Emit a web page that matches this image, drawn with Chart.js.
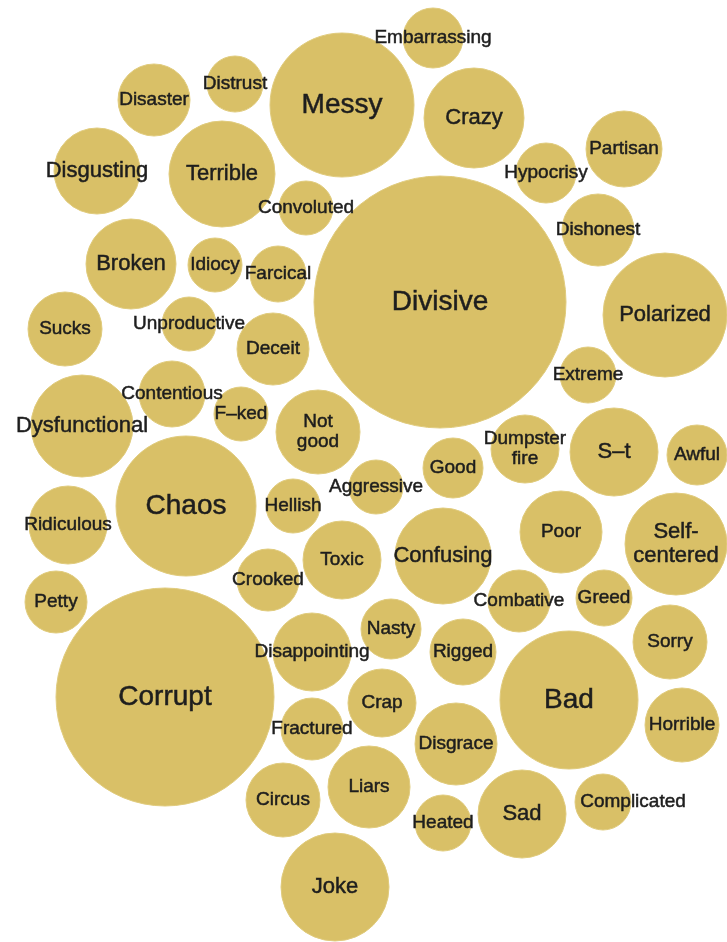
<!DOCTYPE html>
<html>
<head>
<meta charset="utf-8">
<script src="https://cdn.jsdelivr.net/npm/chart.js@4"></script>
<style>
  html, body { margin: 0; padding: 0; background: #fff; }
  #wrap { width: 727px; height: 942px; }
</style>
</head>
<body>
<div id="wrap"><canvas id="bubbles" width="727" height="942"></canvas></div>
<script>
// words as they appear in the picture (line breaks where the label wraps)
const words = [
  "Embarrassing", "Disaster", "Distrust", "Messy", "Crazy", "Disgusting",
  "Terrible", "Partisan", "Hypocrisy", "Convoluted", "Dishonest", "Broken",
  "Idiocy", "Farcical", "Divisive", "Polarized", "Sucks", "Unproductive",
  "Deceit", "Extreme", "Contentious", "F\u2013ked", "Dysfunctional", "Not\ngood",
  "Dumpster\nfire", "S\u2013t", "Awful", "Good", "Aggressive", "Chaos",
  "Hellish", "Ridiculous", "Poor", "Self-\ncentered", "Confusing", "Toxic",
  "Crooked", "Petty", "Combative", "Greed", "Nasty", "Sorry",
  "Disappointing", "Rigged", "Corrupt", "Bad", "Crap", "Fractured",
  "Horrible", "Disgrace", "Liars", "Circus", "Heated", "Sad",
  "Complicated", "Joke"
];
const xs = [
  433, 154, 235, 342, 474, 97,
  222, 624, 546, 306, 598, 131,
  215, 278, 440, 665, 65, 189,
  273, 588, 172, 241, 82, 318,
  525, 614, 697, 453, 376, 186,
  293, 68, 561, 676, 443, 342,
  268, 56, 519, 604, 391, 670,
  312, 463, 165, 569, 382, 312,
  682, 456, 369, 283, 443, 522,
  603, 335
];
const ys = [
  38, 100, 84, 105, 118, 171,
  174, 149, 173, 208, 230, 264,
  265, 274, 302, 315, 329, 324,
  349, 375, 394, 414, 426, 432,
  449, 452, 455, 468, 487, 506,
  506, 525, 532, 544, 556, 560,
  580, 602, 601, 598, 629, 642,
  652, 652, 697, 700, 703, 729,
  725, 744, 787, 800, 823, 814,
  802, 887
];
const radii = [
  30, 36, 28, 72, 50, 43,
  53, 38, 30, 27, 36, 45,
  27, 28, 126, 62, 37, 27,
  36, 28, 33, 27, 51, 42,
  34, 44, 30, 30, 27, 70,
  27, 39, 41, 51, 48, 39,
  31, 31, 31, 28, 30, 37,
  39, 33, 109, 69, 34, 31,
  37, 41, 41, 37, 28, 44,
  28, 54
];

// labels that sit off their bubble's centre
const labelShift = { "Complicated": 30 };

const wordLabels = {
  id: "wordLabels",
  afterDatasetsDraw(chart) {
    const ctx = chart.ctx;
    const meta = chart.getDatasetMeta(0);
    ctx.save();
    ctx.fillStyle = "#1e1e1e";
    ctx.strokeStyle = "#1e1e1e";
    ctx.lineWidth = 0.5;
    ctx.textAlign = "center";
    ctx.textBaseline = "middle";
    meta.data.forEach((pt, i) => {
      const r = radii[i];
      const size = r >= 68 ? 28 : r >= 43 ? 22 : 19;
      ctx.font = size + "px 'Liberation Sans', Arial, sans-serif";
      const lines = words[i].split("\n");
      const lh = size * 1.08;
      const dx = labelShift[words[i]] || 0;
      lines.forEach((line, j) => {
        const ty = pt.y + (j - (lines.length - 1) / 2) * lh;
        ctx.fillText(line, pt.x + dx, ty);
        ctx.strokeText(line, pt.x + dx, ty);
      });
    });
    ctx.restore();
  },
};

const ctx = document.getElementById("bubbles").getContext("2d");
new Chart(ctx, {
  type: "bubble",
  data: {
    datasets: [
      {
        label: "Words",
        data: words.map((w, i) => ({ x: xs[i], y: ys[i], r: radii[i] })),
        backgroundColor: "rgb(217, 192, 103)",
        borderColor: "rgb(224, 203, 125)",
        borderWidth: 1,
        clip: false,
      },
    ],
  },
  options: {
    responsive: false,
    animation: false,
    events: [],
    layout: { padding: 0, autoPadding: false },
    plugins: {
      legend: { display: false },
      tooltip: { enabled: false },
    },
    scales: {
      x: { type: "linear", min: 0, max: 727, display: false },
      y: { type: "linear", min: 0, max: 942, reverse: true, display: false },
    },
  },
  plugins: [wordLabels],
});
</script>
</body>
</html>
